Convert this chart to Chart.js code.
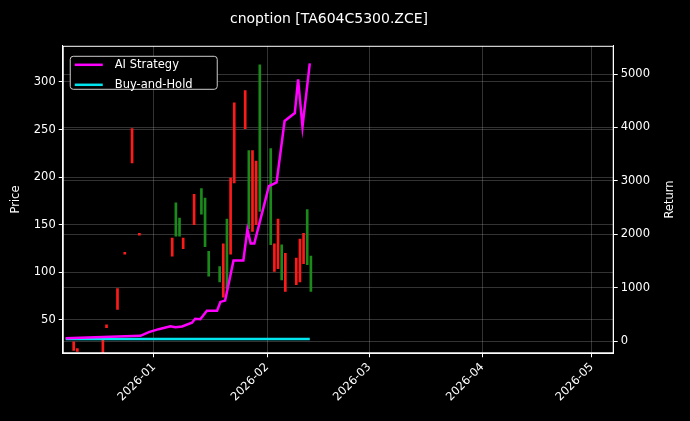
<!DOCTYPE html>
<html><head><meta charset="utf-8">
<script src="https://cdn.jsdelivr.net/npm/chart.js@4/dist/chart.umd.min.js"></script>
<style>html,body{margin:0;background:#000;}#w{width:690px;height:421px;}</style>
</head><body><div id="w"><canvas id="c"></canvas></div>
<script>
// days relative to 2026-01-01
const candleDays = [-22,-21,-14,-13,-10,-8,-6,-4,5,6,7,8,11,13,14,15,18,19,20,21,22,25,26,27,28,29,32,33,34,35,36,39,40,41,42,43];
const candleHigh = [27,20,32,45,83,121,251,141,136,173,157,136,182,188,178,122,106,130,156,199,278,291,228,228,217,318,230,130,156,129,120,115,135,141,166,117];
const candleLow  = [18,17,15,42,61,119,215,139,117,138,138,125,150,161,127,96,90,74,83,119,194,251,146,143,150,164,129,101,104,92,80,87,90,109,108,80];
const candleUp   = [0,0,0,0,0,0,0,0,0,1,1,0,0,1,1,1,1,0,1,0,0,0,1,0,0,1,1,0,0,1,0,0,0,0,1,1];
const aiDays = [-24.2,-3.7,-1.4,1.3,4.5,5.9,7.7,10.4,11.3,12.7,14.5,17.3,18.2,19.5,21.8,24.5,25.6,26.5,27.5,31.5,33.6,35.8,38.6,39.5,40.7,42.7];
const aiReturn = [57,100,170,225,280,260,275,345,420,410,570,570,735,760,1510,1510,2090,1830,1830,2900,2970,4120,4270,4900,4010,5200];
const bhDays = [-24.2,0,20,42.7];
const bhReturn = [40,40,40,40];
const monthTicks = [0,31,59,90,120];
const monthLabels = ['2026-01','2026-02','2026-03','2026-04','2026-05'];
const priceTicks = [50,100,150,200,250,300];
const returnTicks = [0,1000,2000,3000,4000,5000];

const F = {size:11.5, family:'DejaVu Sans'};
const grid = {color:'rgba(170,170,170,0.3)', borderDash:[3,3], tickColor:'#fff', offset:false, tickLength:4};
new Chart(document.getElementById('c'), {
  data: {datasets: [
    {type:'bar', label:'candles', data: candleDays.map((d,i)=>({x:d, y:[candleLow[i], candleHigh[i]]})),
     backgroundColor: candleUp.map(u=>u?'#1a8a1a':'#ff1a1a'), barThickness:2, yAxisID:'y', order:3},
    {type:'line', label:'AI Strategy', data: aiDays.map((d,i)=>({x:d,y:aiReturn[i]})), borderColor:'#ff00ff', borderWidth:2.5, pointRadius:0, yAxisID:'y1', order:1},
    {type:'line', label:'Buy-and-Hold', data: bhDays.map((d,i)=>({x:d,y:bhReturn[i]})), borderColor:'#00e5ee', borderWidth:2.5, pointRadius:0, yAxisID:'y1', order:2}
  ]},
  options: {
    responsive:true, maintainAspectRatio:false, animation:false,
    layout:{padding:{left:5,right:37,top:8,bottom:14}},
    plugins:{
      title:{display:true, text:'cnoption [TA604C5300.ZCE]', color:'#fff', font:{size:14, family:'DejaVu Sans', weight:'normal'}, padding:{top:3,bottom:18}},
      legend:{display:false}, tooltip:{enabled:false}
    },
    scales:{
      x:{type:'linear', min:-25, max:126, offset:false,
        afterBuildTicks: s=>{ s.ticks = monthTicks.map(v=>({value:v})); },
        ticks:{color:'#fff', maxRotation:45, minRotation:45, font:F, autoSkip:false,
          callback:(v)=>monthLabels[monthTicks.indexOf(v)]},
        grid:grid, border:{color:'#fff'}},
      y:{position:'left', min:15, max:338,
        afterBuildTicks: s=>{ s.ticks=priceTicks.map(v=>({value:v})); },
        ticks:{color:'#fff', font:F},
        title:{display:true, text:'Price', color:'#fff', font:F, padding:{top:4,bottom:8}},
        grid:grid, border:{color:'#fff'}},
      y1:{position:'right', min:-226, max:5528,
        afterBuildTicks: s=>{ s.ticks=returnTicks.map(v=>({value:v})); },
        ticks:{color:'#fff', font:F, callback:v=>String(v)},
        grid:{color:'rgba(170,170,170,0.3)', borderDash:[3,3], tickColor:'#fff', tickLength:4}, border:{color:'#fff'}}
    }
  },
  plugins:[{id:'extra', afterDraw(ch){
    const c=ch.ctx, a=ch.chartArea;
    c.save();
    c.strokeStyle='#fff'; c.lineWidth=1; c.strokeRect(a.left+0.5,a.top+0.5,a.right-a.left-1,a.bottom-a.top-1);
    c.fillStyle='#fff'; c.font='11.5px DejaVu Sans'; c.textAlign='center'; c.textBaseline='middle';
    c.translate(ch.scales.y1.right+17,(a.top+a.bottom)/2); c.rotate(-Math.PI/2); c.fillText('Return',0,0);
    c.restore();
    c.save();
    const x=a.left+7, y=a.top+10;
    c.fillStyle='#000'; c.strokeStyle='#ccc'; c.lineWidth=1;
    c.beginPath(); c.roundRect(x+0.5,y+0.5,147,33,3); c.fill(); c.stroke();
    c.font='11.5px DejaVu Sans'; c.textBaseline='middle';
    [['AI Strategy','#ff00ff'],['Buy-and-Hold','#00e5ee']].forEach((e,i)=>{
      const yy=y+9+i*20; c.strokeStyle=e[1]; c.lineWidth=2.5;
      c.beginPath(); c.moveTo(x+5,yy); c.lineTo(x+33,yy); c.stroke();
      c.fillStyle='#fff'; c.fillText(e[0], x+45, yy);
    });
    c.restore();
  }}]
});
</script></body></html>
